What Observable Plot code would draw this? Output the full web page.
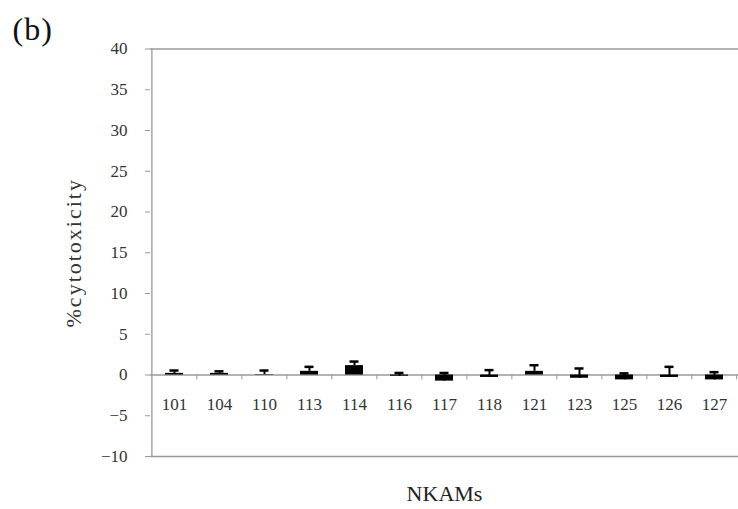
<!DOCTYPE html>
<html>
<head>
<meta charset="utf-8">
<script src="https://cdn.jsdelivr.net/npm/d3@7"></script>
<script src="https://cdn.jsdelivr.net/npm/@observablehq/plot@0.6"></script>
<style>
  html, body { margin: 0; padding: 0; background: #fff; }
  #chart svg { display: block; }
</style>
</head>
<body>
<div id="chart"></div>
<script>
// NKAM lines on the x axis
const cats = ["101", "104", "110", "113", "114", "116", "117", "118", "121", "123", "125", "126", "127"];
// mean % cytotoxicity for each line
const means = [0.2, 0.2, 0.05, 0.45, 1.15, -0.15, -0.75, -0.3, 0.45, -0.4, -0.6, -0.3, -0.6];
// upper error (standard deviation) for each line
const errs = [0.35, 0.25, 0.5, 0.55, 0.5, 0.4, 1.0, 0.9, 0.75, 1.2, 0.8, 1.3, 0.95];
// y-axis tick values
const yTicks = [-10, -5, 0, 5, 10, 15, 20, 25, 30, 35, 40];

const data = cats.map((c, i) => ({cat: c, mean: means[i], err: errs[i], top: means[i] + errs[i]}));

const W = 738, H = 509;
const mL = 150, mR = 0, mT = 48.5, mB = 53;
const step = (W - mL - mR) / cats.length;
const axisGray = "#999";
const font = "'Liberation Serif', 'DejaVu Serif', serif";

const chart = Plot.plot({
  width: W,
  height: H,
  marginLeft: mL,
  marginRight: mR,
  marginTop: mT,
  marginBottom: mB,
  style: {fontFamily: font, fontSize: "17px", color: "#333", background: "#fff", overflow: "visible"},
  x: {domain: cats, paddingInner: 0.6, paddingOuter: 0.3, align: 0.5, axis: null},
  y: {domain: [-10, 40], axis: null},
  marks: [
    // frame lines: top, bottom and left axis
    Plot.ruleY([40, -10], {stroke: axisGray, strokeWidth: 1.3}),
    Plot.ruleX([0], {x: () => cats[0], dx: -step / 2, y1: -10, y2: 40, stroke: axisGray, strokeWidth: 1.3}),
    // y axis ticks and labels
    Plot.axisY(yTicks, {tickSize: 5, tickPadding: 18, stroke: axisGray, fontSize: 17, fill: "#333"}),
    // zero baseline with category separators
    Plot.ruleY([0], {stroke: axisGray, strokeWidth: 1.5}),
    Plot.ruleX(cats.slice(1), {x: d => d, dx: -step / 2, y1: 0, y2: -0.6, stroke: axisGray, strokeWidth: 1}),
    Plot.ruleX([cats[cats.length - 1]], {x: d => d, dx: step / 2 - 0.5, y1: 0, y2: -0.6, stroke: axisGray, strokeWidth: 1}),
    // bars
    Plot.barY(data, {x: "cat", y: "mean", fill: "#000"}),
    // error bars
    Plot.ruleX(data, {x: "cat", y1: "mean", y2: "top", stroke: "#000", strokeWidth: 2}),
    Plot.tickY(data, {x: "cat", y: "top", stroke: "#000", strokeWidth: 2.5, insetLeft: 4.5, insetRight: 4.5}),
    // category labels below the baseline
    Plot.text(cats, {x: d => d, y: 0, dy: 29.5, text: d => d, fontSize: 17, fill: "#333"}),
    // axis titles and panel letter
    Plot.text(["%cytotoxicity"], {frameAnchor: "left", dx: -77, rotate: -90, textAnchor: "middle", lineAnchor: "middle", fontSize: 22, fill: "#333"}),
    Plot.text(["NKAMs"], {frameAnchor: "bottom", dy: 37, textAnchor: "middle", lineAnchor: "middle", fontSize: 22, fill: "#222"}),
    Plot.text(["(b)"], {frameAnchor: "top-left", dx: -138, dy: -32, textAnchor: "start", lineAnchor: "top", fontSize: 32, fill: "#111"})
  ]
});

// widen the letter spacing of the titles
for (const t of chart.querySelectorAll("text")) {
  const s = t.textContent;
  if (s === "%cytotoxicity") t.setAttribute("letter-spacing", "2px");
  if (s === "(b)") t.setAttribute("letter-spacing", "1px");
}

document.getElementById("chart").appendChild(chart);
</script>
</body>
</html>
